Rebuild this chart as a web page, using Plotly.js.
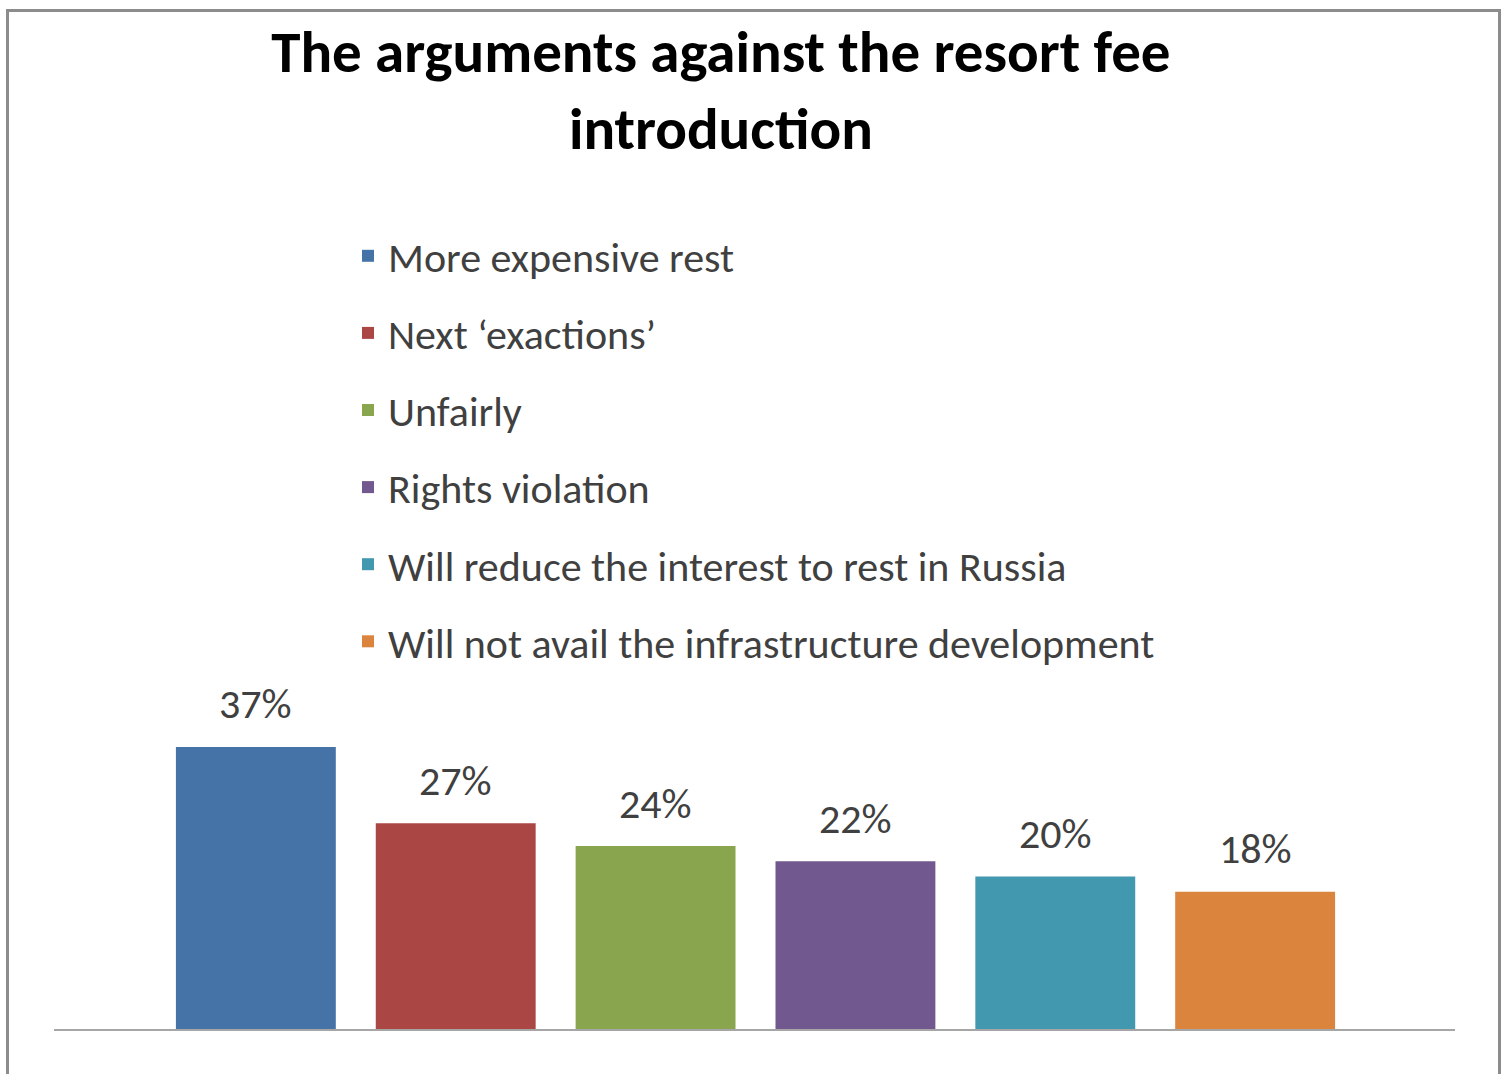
<!DOCTYPE html>
<html>
<head>
<meta charset="utf-8">
<script src="https://cdn.plot.ly/plotly-3.0.1.min.js"></script>
<style>
  html, body { margin: 0; padding: 0; background: #fff; overflow: hidden; }
  #chart { position: absolute; left: 0; top: 0; width: 1502px; height: 1074px; }
  #frame { position: absolute; left: 6px; top: 9px; width: 1489px; height: 1100px;
           border: 3px solid #8c8c8c; pointer-events: none; }
</style>
</head>
<body>
<div id="chart"></div>
<div id="frame"></div>
<script>
const categories = [
  "More expensive rest",
  "Next \u2018exactions\u2019",
  "Unfairly",
  "Rights violation",
  "Will reduce the interest to rest in Russia",
  "Will not avail the infrastructure development"
];
const values = [37, 27, 24, 22, 20, 18];
const colors = ["#4572A7", "#AA4643", "#89A54E", "#71588F", "#4198AF", "#DB843D"];
const labels = values.map(v => v + "%");

const FONT = "Carlito, Calibri, Lato, 'Open Sans', sans-serif";

const traces = categories.map((c, i) => ({
  type: "bar",
  name: c,
  x: [c],
  y: [values[i]],
  legendgroup: "g" + i,
  marker: { color: colors[i], line: { width: 0 } },
  hoverinfo: "name+y"
}));

const annotations = categories.map((c, i) => ({
  x: c, y: values[i], xref: "x", yref: "y",
  text: labels[i], showarrow: false,
  yanchor: "middle", yshift: 43,
  font: { family: FONT, size: 42, color: "#404040" }
}));

const layout = {
  width: 1502, height: 1074,
  paper_bgcolor: "rgba(0,0,0,0)",
  plot_bgcolor: "rgba(0,0,0,0)",
  margin: { l: 54, r: 47, t: 724, b: 45 },
  title: {
    text: "The arguments against the resort fee<br>introduction",
    x: 0.476, xref: "paper", xanchor: "center",
    y: 1 - 72 / 1074, yref: "container", yanchor: "top",
    font: { family: FONT, size: 59, weight: 700, color: "#000" }
  },
  barmode: "group",
  bargap: 0.2,
  xaxis: {
    type: "category",
    categoryorder: "array", categoryarray: categories,
    range: [-1.01, 6.0],
    showline: true, linecolor: "#a6a6a6", linewidth: 2,
    showticklabels: false, ticks: "", showgrid: false, zeroline: false
  },
  yaxis: {
    range: [0, 40], visible: false, showgrid: false, zeroline: false
  },
  showlegend: true,
  legend: {
    orientation: "v",
    x: (348 - 54) / 1401, xanchor: "left",
    y: (1029 - 222) / 305, yanchor: "top",
    font: { family: FONT, size: 42, color: "#404040" },
    tracegroupgap: 19.5,
    traceorder: "grouped",
    bgcolor: "rgba(0,0,0,0)"
  },
  annotations: annotations
};

Plotly.newPlot("chart", traces, layout, { displayModeBar: false, staticPlot: true });
</script>
</body>
</html>
